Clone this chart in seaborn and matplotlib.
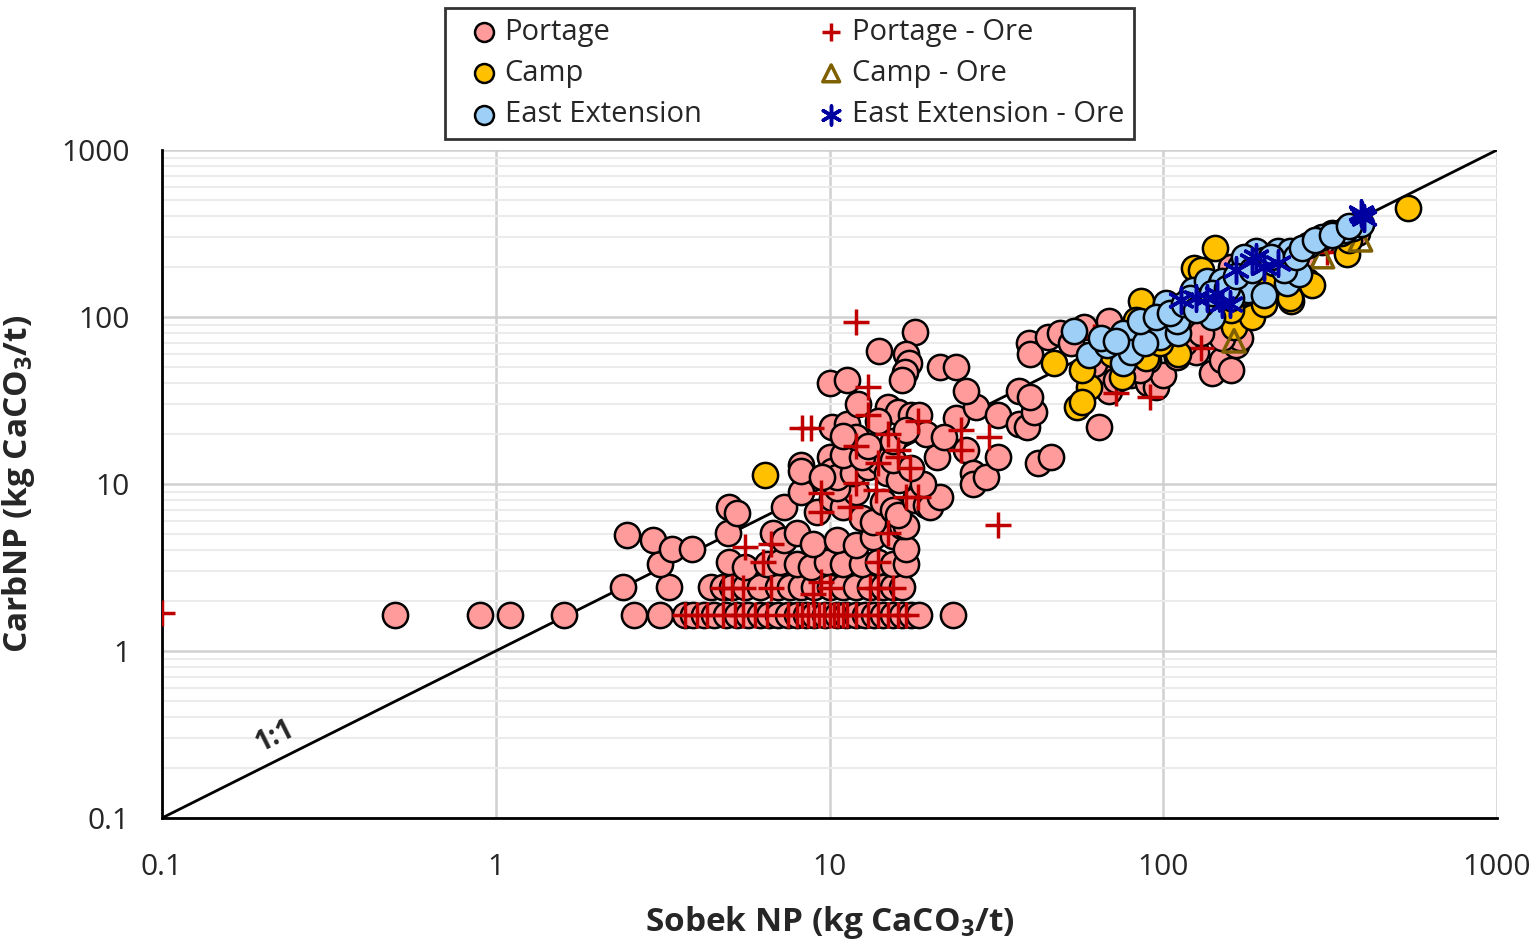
import matplotlib
matplotlib.use("Agg")
import matplotlib.pyplot as plt
import matplotlib.ticker as mticker
import seaborn as sns
import numpy as np

# data (Sobek NP vs CarbNP, kg CaCO3/t)
portage_x = [0.5, 0.9, 1.1, 1.6, 2.6, 3.1, 3.7, 3.9, 4.2, 4.5, 4.9, 5.3, 5.7, 6.2, 6.6, 7.0, 7.5, 8.0,
             8.5, 9.0, 9.7, 10.5, 11.2, 12.0, 12.8, 13.6, 14.5, 15.5, 16.5, 17.5, 18.5, 23.5,
             2.4, 3.3, 4.4, 4.8, 5.1, 5.6, 6.2, 7.0, 7.6, 8.2, 9.0, 10.0, 11.0, 12.0, 13.2, 14.5, 15.5, 16.5,
             3.1, 5.0, 5.6, 6.5, 7.1, 8.0, 8.8, 9.8, 11.0, 12.5, 14.0, 15.5, 17.0,
             2.47, 2.96, 3.37, 3.86, 4.97, 6.75, 7.3, 8.0, 8.9, 10.5, 12.0, 13.5, 15.5, 17.0, 16.5,
             5.0, 5.3, 7.3, 9.2, 10.2, 11.0, 12.5, 13.5, 14.5, 15.5, 17.0, 16.0, 18.0, 19.5, 20.0, 21.5,
             12.0, 10.5, 8.2,
             8.2, 8.2, 10.0, 10.2, 10.5, 11.8, 13.0, 14.1, 14.9, 16.2, 19.0, 21.0, 25.7, 27.0, 27.0, 29.5,
             32.0, 42.0, 46.0, 9.5, 11.0, 12.5, 15.5, 17.5,
             10.2, 11.3, 12.2, 15.0, 16.0, 17.5, 18.5, 19.5, 24.0, 27.5, 32.0, 37.0, 39.0, 41.0, 12.0,
             13.0, 15.5, 17.0, 22.0, 11.0, 14.0,
             10.0, 11.3, 14.1, 18.0, 17.0, 17.3, 16.8, 16.5, 21.5, 23.9, 25.7, 37.0, 40.0, 39.6, 40.0,
             45.0, 49.0, 53.0, 58.0, 69.0, 64.0, 69.0, 66.0, 75.0, 80.0, 85.0, 90.0, 95.0, 100.0, 110.0,
             125.0, 140.0, 150.0, 160.0, 165.0, 170.0, 150.0,
             100.0, 120.0, 140.0, 170.0, 200.0, 220.0, 260.0, 300.0, 350.0, 380.0, 180.0, 160.0, 240.0,
             270.0, 120.0, 105.0, 90.0, 80.0, 62.0, 72.0, 85.0, 115.0, 130.0]
portage_y = [1.65, 1.65, 1.65, 1.65, 1.65, 1.65, 1.65, 1.65, 1.65, 1.65, 1.65, 1.65, 1.65, 1.65, 1.65, 1.65,
             1.65, 1.65, 1.65, 1.65, 1.65, 1.65, 1.65, 1.65, 1.65, 1.65, 1.65, 1.65, 1.65, 1.65, 1.65, 1.65,
             2.42, 2.42, 2.42, 2.42, 2.42, 2.42, 2.42, 2.42, 2.42, 2.42, 2.42, 2.42, 2.42, 2.42, 2.42, 2.42,
             2.42, 2.42,
             3.3, 3.4, 3.2, 3.3, 3.4, 3.3, 3.2, 3.4, 3.3, 3.3, 3.4, 3.3, 3.3,
             4.95, 4.6, 4.1, 4.1, 5.1, 5.1, 4.6, 5.1, 4.4, 4.6, 4.3, 4.8, 4.9, 4.1, 5.6,
             7.3, 6.7, 7.3, 6.8, 8.2, 7.3, 6.3, 5.9, 7.8, 7.0, 5.6, 6.5, 8.0, 7.5, 7.3, 8.4,
             9.0, 9.5, 9.0,
             13.0, 12.0, 14.5, 12.0, 11.0, 11.6, 12.7, 13.8, 11.6, 10.6, 10.0, 14.5, 16.0, 11.6, 10.0, 11.0,
             14.5, 13.4, 14.5, 11.0, 15.0, 14.5, 14.0, 12.5,
             22.0, 23.0, 30.0, 29.0, 27.0, 26.0, 26.0, 20.0, 25.0, 29.0, 26.0, 23.0, 22.0, 27.0, 19.0,
             17.0, 18.0, 21.0, 19.0, 19.5, 24.0,
             40.0, 42.0, 63.0, 81.0, 60.0, 53.0, 47.0, 42.0, 50.0, 50.0, 36.0, 36.0, 33.0, 70.0, 60.0,
             76.0, 80.0, 70.0, 87.0, 95.0, 22.0, 36.0, 48.0, 55.0, 45.0, 62.0, 40.0, 38.0, 45.0, 58.0,
             62.0, 46.0, 55.0, 48.0, 68.0, 75.0, 75.0,
             80.0, 100.0, 120.0, 140.0, 180.0, 200.0, 230.0, 280.0, 300.0, 320.0, 230.0, 200.0, 190.0,
             165.0, 85.0, 68.0, 55.0, 70.0, 52.0, 42.0, 48.0, 70.0, 80.0]

camp_x = [6.4, 47, 55, 60, 57, 57, 143, 124, 86, 83, 111, 89, 98, 163, 184, 242, 280, 355, 540,
          130, 200, 240, 320, 360, 70, 75, 160, 210]
camp_y = [11.3, 53, 29, 38, 31, 48, 260, 196, 124, 96, 60, 57, 70, 87, 100, 124, 155, 240, 450,
          190, 120, 130, 320, 290, 60, 44, 110, 160]

east_x = [54, 60, 76, 76, 80, 68, 92, 98, 111, 102, 116, 123, 135, 149, 140, 170, 190, 200, 220,
          240, 272, 300, 340, 370, 390, 180, 200, 235, 255, 175, 150, 130, 160, 110, 88, 120, 215,
          230, 350, 65, 72, 85, 95, 105, 115, 125, 140, 155, 165, 185, 210, 250, 260, 285, 320, 360]
east_y = [83, 59, 80, 53, 62, 68, 86, 76, 80, 121, 110, 145, 165, 160, 100, 200, 250, 220, 250,
          250, 270, 300, 320, 340, 360, 145, 135, 160, 180, 230, 165, 120, 130, 95, 70, 130, 210,
          190, 330, 75, 72, 95, 100, 105, 120, 110, 140, 150, 175, 190, 230, 230, 260, 290, 310, 350]

portage_ore_x = [0.1, 3.7, 4.0, 4.3, 4.8, 5.2, 5.5, 6.0, 6.5, 7.5, 8.0, 8.3, 8.6, 9.0, 9.3, 9.6, 10.0,
                 10.3, 10.6, 11.0, 11.3, 12.0, 13.0, 14.0, 15.0, 16.0, 17.0,
                 4.8, 5.1, 5.5, 6.7, 8.9, 10.0, 13.2, 14.0, 15.5, 9.4,
                 12.0, 13.0, 13.0, 8.3, 8.8, 12.0, 15.0, 18.4, 16.0, 16.0, 17.4, 14.0, 13.8, 17.0, 18.4,
                 12.0, 9.4, 9.4, 11.5, 24.8, 24.8, 30.0, 32.0, 15.0, 14.0, 5.6, 6.3, 6.7, 62, 72, 91,
                 130, 310]
portage_ore_y = [1.7, 1.65, 1.65, 1.65, 1.65, 1.65, 1.65, 1.65, 1.65, 1.65, 1.65, 1.65, 1.65, 1.65,
                 1.65, 1.65, 1.65, 1.65, 1.65, 1.65, 1.65, 1.65, 1.65, 1.65, 1.65, 1.65, 1.65,
                 2.4, 2.4, 2.4, 2.4, 2.2, 2.4, 2.4, 2.4, 2.4, 2.6,
                 93, 38, 26, 21.5, 21.5, 17, 20, 24, 16, 14.5, 12.5, 13.4, 9.2, 8.4, 8.4,
                 10.1, 8.8, 6.8, 7.3, 21, 16, 19, 5.7, 5.1, 3.4, 4.2, 3.4, 4.4, 76, 35, 33,
                 65, 245]

camp_ore_x = [163, 300, 390]
camp_ore_y = [72, 230, 290]

east_ore_x = [395, 400, 390, 184, 200, 220, 165, 113, 135, 145, 158, 125, 190, 150]
east_ore_y = [410, 390, 420, 215, 200, 210, 190, 126, 130, 138, 120, 130, 230, 120]

sns.set_style("white")
plt.rcParams['font.family'] = ['Open Sans', 'DejaVu Sans']
plt.rcParams['mathtext.fontset'] = 'custom'
plt.rcParams['mathtext.rm'] = 'Open Sans'
plt.rcParams['mathtext.bf'] = 'Open Sans:bold'

fig = plt.figure(figsize=(15.35, 9.39), dpi=100)
ax = fig.add_axes([162 / 1535, 121 / 939, 1335 / 1535, 668 / 939])

ax.set_xscale('log')
ax.set_yscale('log')
ax.set_xlim(0.1, 1000)
ax.set_ylim(0.1, 1000)

# 1:1 line
ax.plot([0.1, 1000], [0.1, 1000], color='black', lw=2, zorder=2)

# series drawn in the Excel order: each group then its ore samples
msize = 330
sns.scatterplot(x=portage_x, y=portage_y, ax=ax, color='#FF9B9B', edgecolor='black',
                linewidth=1.8, s=msize, label='Portage', zorder=3)
sns.scatterplot(x=portage_ore_x, y=portage_ore_y, ax=ax, color='#C00000', edgecolor=None,
                marker='+', linewidth=2.5, s=330, label='Portage - Ore', zorder=4)
sns.scatterplot(x=camp_x, y=camp_y, ax=ax, color='#FFC000', edgecolor='black',
                linewidth=1.8, s=msize, label='Camp', zorder=5)
sns.scatterplot(x=camp_ore_x, y=camp_ore_y, ax=ax, color='#7F6000', facecolor='none',
                edgecolor='#7F6000', marker='^', linewidth=2.5, s=260, label='Camp - Ore', zorder=6)
sns.scatterplot(x=east_x, y=east_y, ax=ax, color='#9DCFF7', edgecolor='black',
                linewidth=1.8, s=msize, label='East Extension', zorder=7)
sns.scatterplot(x=east_ore_x, y=east_ore_y, ax=ax, color='#0000A0', edgecolor=None,
                marker=(6, 2, 0), linewidth=2.5, s=330, label='East Extension - Ore', zorder=8)

# grid
ax.grid(True, which='major', axis='both', color='#d0d0d0', lw=1.8, zorder=0)
ax.grid(True, which='minor', axis='y', color='#ebebeb', lw=1.5, zorder=0)
ax.set_axisbelow(True)

for side in ['top', 'right']:
    ax.spines[side].set_visible(False)
for side in ['left', 'bottom']:
    ax.spines[side].set_color('black')
    ax.spines[side].set_linewidth(2)

ax.xaxis.set_major_locator(mticker.LogLocator(base=10, numticks=10))
ax.yaxis.set_major_locator(mticker.LogLocator(base=10, numticks=10))
ax.xaxis.set_minor_locator(mticker.LogLocator(base=10, subs=np.arange(2, 10), numticks=20))
ax.yaxis.set_minor_locator(mticker.LogLocator(base=10, subs=np.arange(2, 10), numticks=20))
fmt = mticker.FuncFormatter(lambda v, p: '{:g}'.format(v))
ax.xaxis.set_major_formatter(fmt)
ax.yaxis.set_major_formatter(fmt)
ax.xaxis.set_minor_formatter(mticker.NullFormatter())
ax.yaxis.set_minor_formatter(mticker.NullFormatter())
ax.tick_params(which='major', direction='inout', length=18, width=2, labelsize=21.5, color='black')
ax.tick_params(axis='y', which='major', pad=14)
ax.tick_params(axis='x', which='major', pad=16)
ax.tick_params(which='minor', direction='in', length=8, width=2, color='black')

ax.set_xlabel(r'Sobek NP (kg CaCO$_\mathbf{3}$/t)', fontsize=24, fontweight='bold', labelpad=16)
ax.set_ylabel(r'CarbNP (kg CaCO$_\mathbf{3}$/t)', fontsize=24, fontweight='bold', labelpad=18)

# 1:1 label along the line
p0 = ax.transData.transform((0.1, 0.1))
p1 = ax.transData.transform((1000, 1000))
angle = np.degrees(np.arctan2(p1[1] - p0[1], p1[0] - p0[0]))
ax.annotate('1:1', xy=(0.23, 0.23), xytext=(-6, 15), textcoords='offset points', rotation=angle,
            ha='center', va='center', rotation_mode='anchor', fontsize=20, fontweight='bold')

handles, labels = ax.get_legend_handles_labels()
ax.get_legend().remove()
order = ['Portage', 'Camp', 'East Extension', 'Portage - Ore', 'Camp - Ore', 'East Extension - Ore']
hmap = dict(zip(labels, handles))
leg = fig.legend([hmap[k] for k in order], order, loc='center', bbox_to_anchor=(0.5143, 0.9217),
                 ncol=2, fontsize=21, frameon=True, fancybox=False, edgecolor='black',
                 markerscale=0.75, handletextpad=-0.3, columnspacing=3.45, borderpad=0.35,
                 labelspacing=0.42, handlelength=2.0)
leg.get_frame().set_linewidth(2)

fig.savefig('out.png', dpi=100)
